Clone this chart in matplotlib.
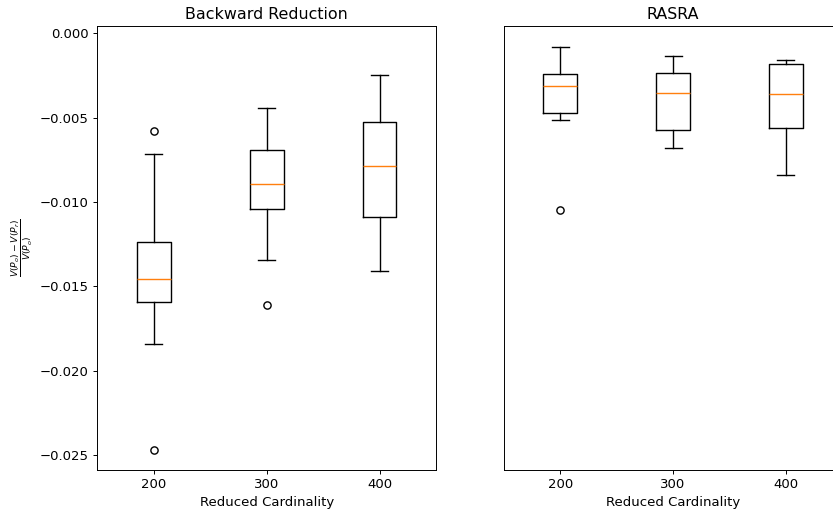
import matplotlib
matplotlib.use("Agg")
import matplotlib.pyplot as plt

# Data
cardinalities = ["200", "300", "400"]
positions = [1, 2, 3]

br_whislo = [-0.01842, -0.01345, -0.01410]
br_q1 = [-0.01593, -0.01043, -0.01088]
br_med = [-0.01457, -0.00894, -0.00786]
br_q3 = [-0.01236, -0.00693, -0.00525]
br_whishi = [-0.00717, -0.00442, -0.00249]
br_fliers = [[-0.00580, -0.02468], [-0.01611], []]

ra_whislo = [-0.00515, -0.00680, -0.00841]
ra_q1 = [-0.00472, -0.00575, -0.00561]
ra_med = [-0.00314, -0.00354, -0.00361]
ra_q3 = [-0.00239, -0.00233, -0.00184]
ra_whishi = [-0.00081, -0.00132, -0.00156]
ra_fliers = [[-0.01045], [], []]

titles = ["Backward Reduction", "RASRA"]
xlabel = "Reduced Cardinality"
ylabel = r"$\frac{V(P_o)-V(P_r)}{V(P_o)}$"

s = 0.87
f = 0.95
plt.rcParams.update({
    "font.size": 10 * f,
    "axes.titlesize": 12 * f,
    "axes.labelsize": 10 * f,
    "xtick.labelsize": 10 * f,
    "ytick.labelsize": 10 * f,
    "axes.linewidth": 0.8 * s,
    "xtick.major.width": 0.8 * s,
    "ytick.major.width": 0.8 * s,
    "xtick.major.size": 3.5 * s,
    "ytick.major.size": 3.5 * s,
    "xtick.major.pad": 3.5 * s,
    "ytick.major.pad": 3.5 * s,
    "axes.titlepad": 6 * s,
    "axes.labelpad": 4 * s,
})


def make_stats(lo, q1, med, q3, hi, fl):
    return [dict(whislo=a, q1=b, med=c, q3=d, whishi=e, fliers=g, label=lab)
            for a, b, c, d, e, g, lab in zip(lo, q1, med, q3, hi, fl, cardinalities)]


fig = plt.figure(figsize=(8.33, 5.14), dpi=100)
ax1 = fig.add_axes([0.1168, 0.0856, 0.4066, 0.8638])
ax2 = fig.add_axes([0.6047, 0.0856, 0.4066, 0.8638], sharey=ax1)

lw = 1.0
props = dict(
    boxprops=dict(linewidth=lw, color="black"),
    whiskerprops=dict(linewidth=lw, color="black"),
    capprops=dict(linewidth=lw, color="black"),
    medianprops=dict(linewidth=lw, color="#ff7f0e"),
    flierprops=dict(marker="o", markersize=6 * s, markerfacecolor="none",
                    markeredgecolor="black", markeredgewidth=lw),
)

ax1.bxp(make_stats(br_whislo, br_q1, br_med, br_q3, br_whishi, br_fliers),
        positions=positions, **props)
ax2.bxp(make_stats(ra_whislo, ra_q1, ra_med, ra_q3, ra_whishi, ra_fliers),
        positions=positions, **props)

for ax, t in zip([ax1, ax2], titles):
    ax.set_title(t)
    ax.set_xlabel(xlabel)
    ax.set_xticks(positions)
    ax.set_xticklabels(cardinalities)
    ax.set_xlim(0.5, 3.5)

ax1.set_ylim(-0.02587, 0.00043)
ax1.set_yticks([0.0, -0.005, -0.010, -0.015, -0.020, -0.025])
ax1.set_ylabel(ylabel)
ax2.tick_params(axis="y", left=False, labelleft=False)

fig.savefig("out.png", dpi=100)
